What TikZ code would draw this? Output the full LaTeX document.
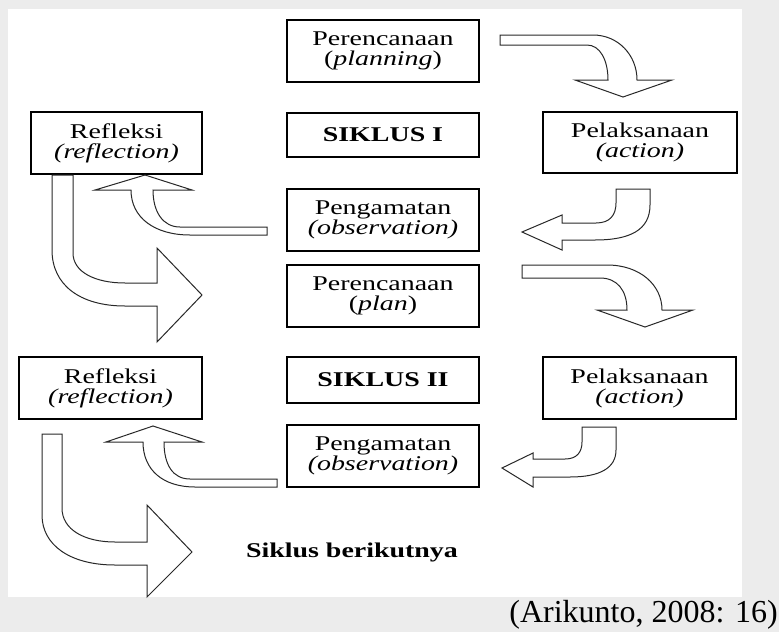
\documentclass[tikz,border=0pt]{standalone}
\usepackage{fontspec}
\setmainfont{Liberation Serif}[FakeStretch=1.33]
\newfontfamily\citefont{Liberation Serif}
\definecolor{pagegrey}{RGB}{236,236,236}
\definecolor{arrowline}{RGB}{40,40,40}

\begin{document}
\begin{tikzpicture}[x=1pt,y=-1pt,
    box/.style={draw,line width=2pt,fill=white,minimum width=192pt,minimum height=62pt,
      align=center,inner sep=0pt,font=\fontsize{21}{20}\selectfont},
    bigarrow/.style={draw=arrowline,line width=1pt,fill=white,line join=miter}]
  \useasboundingbox (0,0) rectangle (779,632);
  \fill[pagegrey] (0,0) rectangle (779,632);
  \fill[white] (8,9) rectangle (742,597);

  % siklus I
  \node[box] (plan1) at (383,51) {Perencanaan\\(\textit{planning})};
  \node[box,minimum height=44pt,font=\bfseries\fontsize{21}{20}\selectfont] (siklus1) at (383,135) {SIKLUS I};
  \node[box,minimum width=171pt] (refl1) at (116.5,143) {Refleksi\\\textit{(reflection)}};
  \node[box,minimum width=194pt,minimum height=61pt] (act1) at (640,142.5) {Pelaksanaan\\\textit{(action)}};
  \node[box] (obs1) at (383,220) {Pengamatan\\\textit{(observation)}};

  % siklus II
  \node[box] (plan2) at (383,296) {Perencanaan\\(\textit{plan})};
  \node[box,minimum width=183pt] (refl2) at (110.5,388) {Refleksi\\\textit{(reflection)}};
  \node[box,minimum height=46pt,font=\bfseries\fontsize{21}{20}\selectfont] (siklus2) at (383,380) {SIKLUS II};
  \node[box,minimum width=193pt] (act2) at (639.5,388) {Pelaksanaan\\\textit{(action)}};
  \node[box] (obs2) at (383,456) {Pengamatan\\\textit{(observation)}};

  \node[anchor=base,inner sep=0pt,font=\bfseries\fontsize{21}{20}\selectfont] (next) at (352,557) {Siklus berikutnya};
  \node[anchor=base east,inner sep=0pt,font=\citefont\fontsize{32}{36}\selectfont] (cite) at (778,622) {(Arikunto, 2008: 16)};

  % block arrows
  \draw[bigarrow] (500,35) -- (593,35) .. controls (618,35) and (637,55) .. (637,80) -- (672,80) -- (623,97)
    -- (575,80) -- (608,80) .. controls (608,60) and (600,45) .. (587,45) -- (500,45) -- cycle;
  \draw[bigarrow] (616,189) -- (650,189) -- (650,205) .. controls (650,230) and (630,240) .. (595,240) -- (562,240)
    -- (562,250) -- (522,232) -- (562,215) -- (562,223) -- (596,223) .. controls (610,223) and (616,215) .. (616,203) -- cycle;
  \draw[bigarrow] (267,227) -- (180,227) .. controls (163,227) and (153,212) .. (153,190) -- (192,190) -- (refl1.south -| 145,0)
    -- (95,190) -- (131,190) .. controls (131,218) and (155,235) .. (190,235) -- (267,235) -- cycle;
  \draw[bigarrow] (refl1.south -| 52,0) -- (refl1.south -| 73,0) -- (73,253) .. controls (73,272) and (95,283) .. (125,283)
    -- (157,283) -- (157,248) -- (202,295) -- (157,342) -- (157,306) -- (125,306) .. controls (80,306) and (52,285) .. (52,250) -- cycle;
  \draw[bigarrow] (522,265) -- (607,265) .. controls (640,265) and (662,285) .. (662,310) -- (693,310) -- (645,327)
    -- (597,310) -- (627,310) .. controls (627,290) and (617,278) .. (600,278) -- (522,278) -- cycle;
  \draw[bigarrow] (582,427) -- (616,427) -- (616,450) .. controls (616,468) and (600,477) .. (570,477) -- (533,477)
    -- (533,487) -- (502,468) -- (533,453) -- (533,459) -- (565,459) .. controls (577,459) and (582,452) .. (582,442) -- cycle;
  \draw[bigarrow] (277,479) -- (190,479) .. controls (173,479) and (164,465) .. (164,442) -- (202,442) -- (153,426)
    -- (106,442) -- (143,442) .. controls (143,470) and (163,487) .. (195,487) -- (277,487) -- cycle;
  \draw[bigarrow] (42,434) -- (62,434) -- (62,508) .. controls (62,530) and (85,542) .. (115,542) -- (147,542)
    -- (147,505) -- (192,552) -- (147,597) -- (147,565) -- (115,565) .. controls (70,565) and (42,545) .. (42,515) -- cycle;
\end{tikzpicture}
\end{document}
